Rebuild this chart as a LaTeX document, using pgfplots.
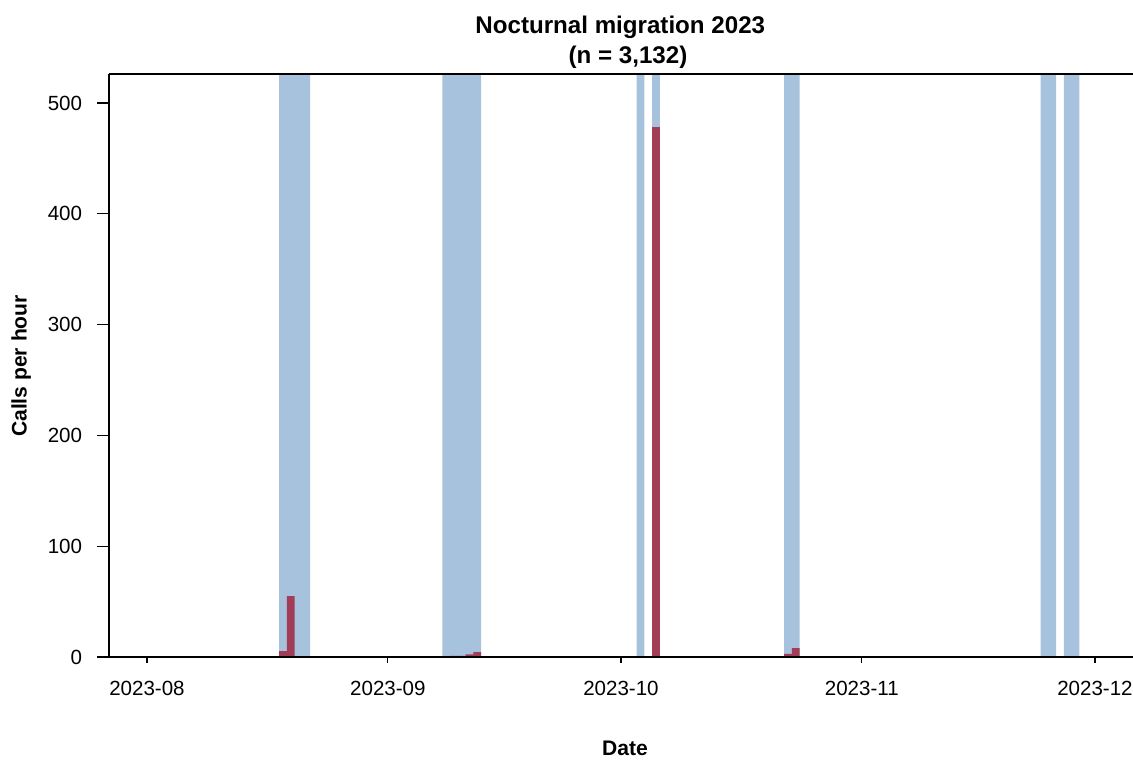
\documentclass[border=0pt]{standalone}
\usepackage{fontspec}
\setmainfont{Liberation Sans}
\usepackage{pgfplots}
\pgfplotsset{compat=1.18}
\definecolor{bandblue}{RGB}{166,194,220}
\definecolor{barred}{RGB}{162,61,88}
\begin{document}
\begin{tikzpicture}[x=0.75pt,y=0.75pt]
\path[use as bounding box] (0,0) rectangle (1133,760);
\begin{axis}[
  at={(81.75pt,77.25pt)}, anchor=south west,
  scale only axis, width=768pt, height=437.25pt,
  xmin=-4.89, xmax=126.9, ymin=0, ymax=526.2,
  axis line style={draw=none},
  clip mode=individual,
  tick align=outside,
  major tick length=9pt,
  xtick pos=bottom, ytick pos=left,
  xtick={0,31,61,92,122},
  xticklabels={2023-08,2023-09,2023-10,2023-11,2023-12},
  xtick style={draw=none},
  ytick={0,100,200,300,400,500},
  ytick style={black, line width=0.9pt},
  /pgf/number format/assume math mode=true,
  ticklabel style={font=\fontsize{15.4}{18}\selectfont},
  yticklabel style={anchor=east, inner sep=0pt, xshift=-11pt},
  xticklabel style={anchor=base, inner sep=0pt, yshift=-20pt},
]
\addplot[ybar interval, fill=bandblue, draw=none] coordinates {
  (17,600) (21,0) (38,600) (43,0) (63,600) (64,0) (65,600) (66,0)
  (82,600) (84,0) (115,600) (117,0) (118,600) (120,0) (121,0)};
\addplot[ybar interval, fill=barred, draw=none] coordinates {
  (17,5.4) (18,55) (19,0)};
\addplot[ybar interval, fill=barred, draw=none] coordinates {
  (39,0.9) (40,1.0) (41,2.3) (42,4.3) (43,0)};
\addplot[ybar interval, fill=barred, draw=none] coordinates {
  (65,478.5) (66,0)};
\addplot[ybar interval, fill=barred, draw=none] coordinates {
  (82,2.8) (83,8.1) (84,0)};
\draw[black, line width=0.9pt] (rel axis cs:0,1) -- (rel axis cs:0,0) -- (rel axis cs:1,0);
\draw[black, line width=0.9pt] (rel axis cs:0,1) -- (rel axis cs:1,1);
\pgfplotsinvokeforeach{0,31,61,92,122}{
  \draw[black, line width=0.9pt] (axis cs:#1,0) -- ++(0pt,-4.7pt);
}
\end{axis}
\node[anchor=base, inner sep=0pt, font=\bfseries\fontsize{18.1}{22}\selectfont] at (620.3,726.7) {Nocturnal migration 2023};
\node[anchor=base, inner sep=0pt, font=\bfseries\fontsize{18.1}{22}\selectfont] at (628,696.7) {(n = 3,132)};
\node[anchor=base, inner sep=0pt, rotate=90, font=\bfseries\fontsize{15.8}{19}\selectfont] at (26.7,394) {Calls per hour};
\node[anchor=base, inner sep=0pt, font=\bfseries\fontsize{15.8}{19}\selectfont] at (625,4) {Date};
\end{tikzpicture}
\end{document}
